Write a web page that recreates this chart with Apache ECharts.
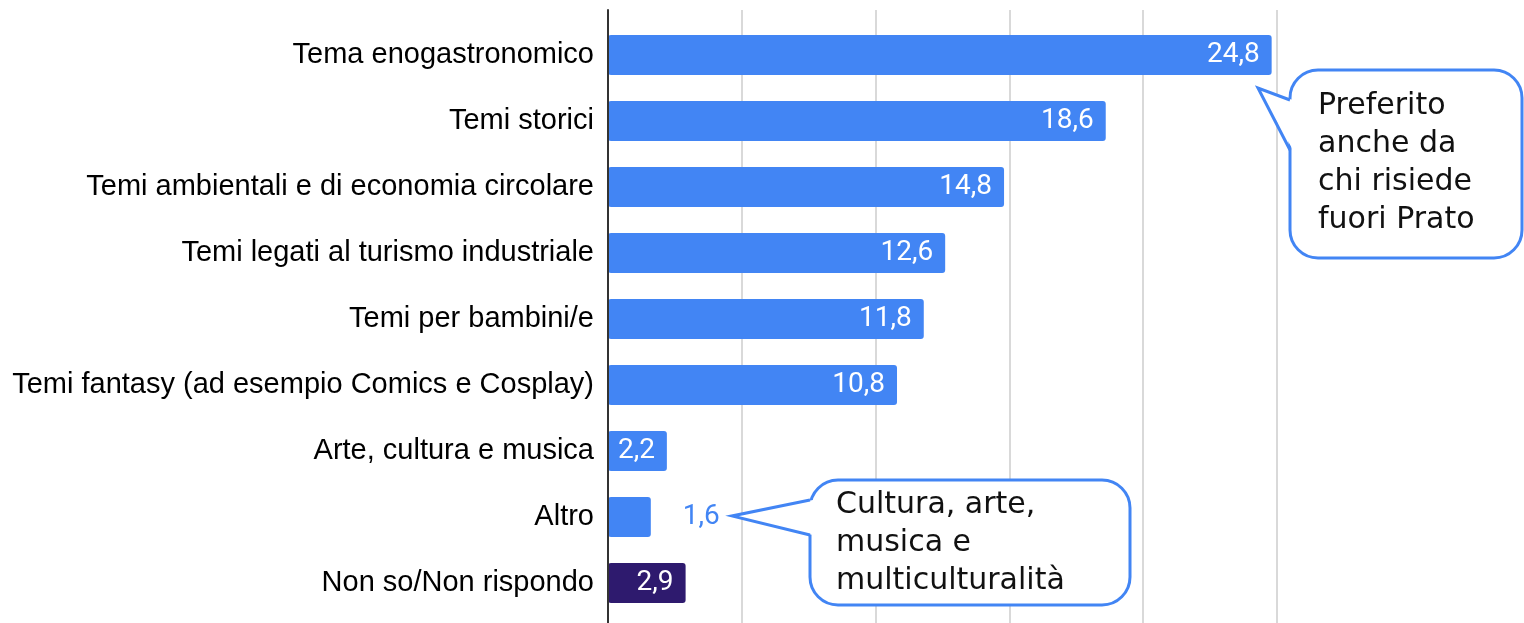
<!DOCTYPE html>
<html>
<head>
<meta charset="utf-8">
<script src="https://cdn.jsdelivr.net/npm/echarts@6/dist/echarts.min.js"></script>
<style>
  html, body { margin: 0; padding: 0; background: #fff; }
  #chart { width: 1524px; height: 623px; }
</style>
</head>
<body>
<div id="chart"></div>
<script>
// dati
var categories = [
    'Tema enogastronomico',
    'Temi storici',
    'Temi ambientali e di economia circolare',
    'Temi legati al turismo industriale',
    'Temi per bambini/e',
    'Temi fantasy (ad esempio Comics e Cosplay)',
    'Arte, cultura e musica',
    'Altro',
    'Non so/Non rispondo'
];
var values = [24.8, 18.6, 14.8, 12.6, 11.8, 10.8, 2.2, 1.6, 2.9];
var xTicks = [0, 5, 10, 15, 20, 25];

var BLUE = '#4285f4';
var DARK = '#2e1a6e';

function fmt(v) {
    return String(v).replace('.', ',');
}

var barData = values.map(function(v, i) {
    var item = { value: v };
    if (i === values.length - 1) {
        item.itemStyle = { color: DARK };
    }
    if (categories[i] === 'Altro') {
        // etichetta fuori dalla barra
        item.label = {
            position: 'right',
            distance: 32,
            color: BLUE
        };
    }
    return item;
});

// fumetto: rettangolo arrotondato + punta
function callout(box, tip, base, lines, textPos) {
    return [
        {
            type: 'rect',
            shape: { x: box[0], y: box[1], width: box[2], height: box[3], r: 28 },
            style: { fill: '#fff', stroke: BLUE, lineWidth: 3 },
            z: 10
        },
        {
            type: 'polygon',
            shape: { points: [[base[0] + 3, base[1]], tip, [base[0] + 3, base[2]]] },
            style: { fill: '#fff', stroke: null },
            z: 11
        },
        {
            type: 'polyline',
            shape: { points: [[base[0], base[1]], tip, [base[0], base[2]]] },
            style: { fill: null, stroke: BLUE, lineWidth: 3, lineJoin: 'miter' },
            z: 12
        },
        {
            type: 'text',
            x: textPos[0],
            y: textPos[1],
            style: {
                text: lines.join('\n'),
                fill: '#111',
                font: '30px "DejaVu Sans"',
                lineHeight: 38
            },
            z: 13
        }
    ];
}

var myChart = echarts.init(document.getElementById('chart'));

var option = {
    animation: false,
    backgroundColor: '#fff',
    grid: [
        { left: 608, right: 247, top: 22, bottom: 7 },
        { left: 608, right: 247, top: 10, bottom: 0 }  // solo griglia
    ],
    xAxis: [
        {
            type: 'value', gridIndex: 0, min: 0, max: 25, interval: 5,
            axisLabel: { show: false }, axisLine: { show: false },
            axisTick: { show: false }, splitLine: { show: false }
        },
        {
            type: 'value', gridIndex: 1, min: xTicks[0], max: xTicks[xTicks.length - 1], interval: 5,
            axisLabel: { show: false }, axisLine: { show: false },
            axisTick: { show: false },
            splitLine: { show: true, lineStyle: { color: '#cccccc', width: 1.5 } }
        }
    ],
    yAxis: [
        {
            type: 'category', gridIndex: 0, inverse: true,
            data: categories,
            axisLine: { show: false },
            axisTick: { show: false },
            axisLabel: {
                margin: 14,
                color: '#000',
                fontFamily: '"Liberation Sans", Arial',
                fontSize: 29
            }
        },
        {
            type: 'value', gridIndex: 1, min: 0, max: 1,
            axisLabel: { show: false }, axisTick: { show: false },
            splitLine: { show: false },
            axisLine: { show: true, lineStyle: { color: '#333', width: 2 } },
            z: 5
        }
    ],
    series: [
        {
            type: 'bar',
            xAxisIndex: 0,
            yAxisIndex: 0,
            barWidth: 40,
            itemStyle: { color: BLUE, borderRadius: 3 },
            label: {
                show: true,
                position: 'insideRight',
                distance: 12,
                color: '#fff',
                fontFamily: 'Roboto',
                fontSize: 28,
                formatter: function(p) { return fmt(p.value); }
            },
            data: barData,
            z: 3
        }
    ],
    graphic: [].concat(
        callout([1290, 70, 232, 188], [1258, 88], [1290, 100, 150],
            ['Preferito', 'anche da', 'chi risiede', 'fuori Prato'], [1318, 87]),
        callout([810, 480, 320, 125], [732, 516], [810, 500, 535],
            ['Cultura, arte,', 'musica e', 'multiculturalità'], [836, 486])
    )
};

myChart.setOption(option);
window.onresize = myChart.resize;
</script>
</body>
</html>
